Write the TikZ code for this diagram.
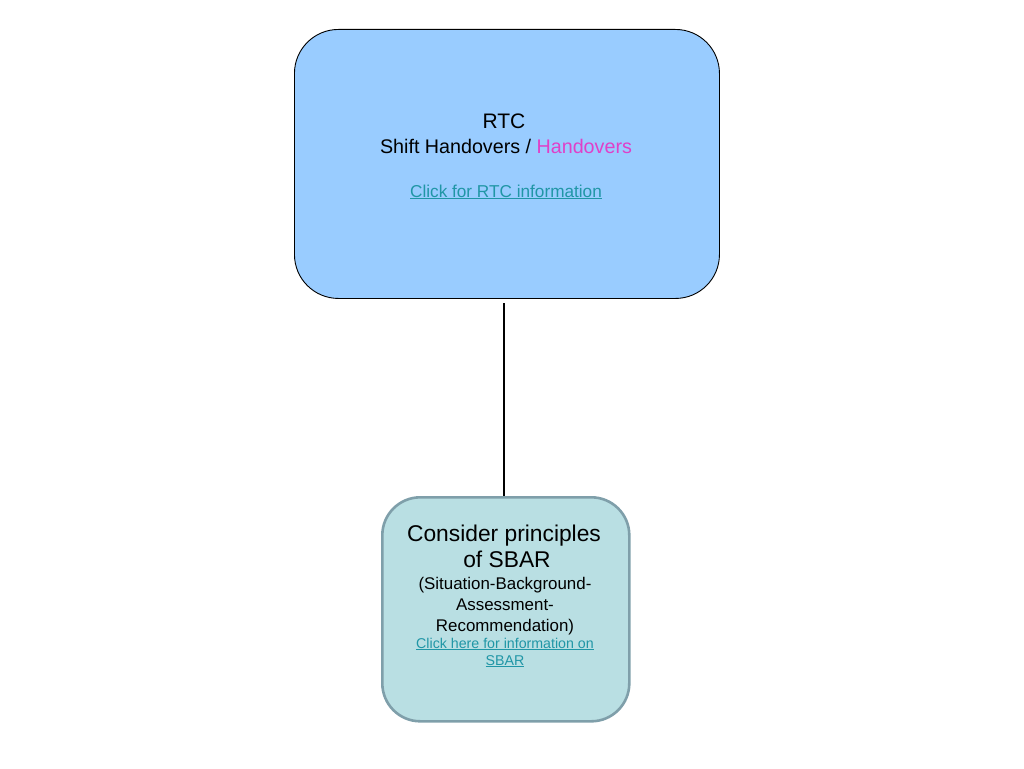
\documentclass[tikz,border=0pt]{standalone}
\usepackage{fontspec}
\setmainfont{Liberation Sans}
\definecolor{topfill}{HTML}{99CCFF}
\definecolor{botfill}{HTML}{B9DFE3}
\definecolor{botdraw}{HTML}{7F9FAA}
\definecolor{linkc}{HTML}{2096A6}
\definecolor{pinkc}{HTML}{E040C8}
\begin{document}
\begin{tikzpicture}[x=1pt,y=-1pt,
  box/.style={draw,rounded corners=44pt,inner sep=0pt,anchor=north west},
  txt/.style={inner sep=0pt,anchor=base},
  lnk/.style={txt,text=linkc}]
\useasboundingbox (0,0) rectangle (1024,768);
\node[box,fill=topfill,draw=black,line width=0.9pt,minimum width=425pt,minimum height=269pt] (top) at (294,29) {};
\node[box,fill=botfill,draw=botdraw,line width=2.6pt,rounded corners=38pt,minimum width=247pt,minimum height=224pt] (bot) at (381,496) {};
\coordinate (lt) at (504,303);
\coordinate (lb) at (504,496);
\draw[line width=2.6pt] (lt) -- (lb);
\node[txt,font=\fontsize{21}{24}\selectfont] (t1) at (504,128) {RTC};
\node[txt,font=\fontsize{19.7}{24}\selectfont] (t2) at (506,153) {Shift Handovers / \textcolor{pinkc}{Handovers}};
\node[lnk,font=\fontsize{17.2}{20}\selectfont] (t3) at (506,197) {\underline{Click for RTC information}};
\node[txt,font=\fontsize{22.8}{26}\selectfont] (b1) at (504,541) {Consider principles};
\node[txt,font=\fontsize{22.8}{26}\selectfont] (b2) at (507,567) {of SBAR};
\node[txt,font=\fontsize{16.9}{20}\selectfont] (b3) at (505,589) {(Situation-Background-};
\node[txt,font=\fontsize{16.9}{20}\selectfont] (b4) at (505,610) {Assessment-};
\node[txt,font=\fontsize{16.9}{20}\selectfont] (b5) at (505,631) {Recommendation)};
\node[lnk,font=\fontsize{14.2}{16}\selectfont] (b6) at (505,648) {\underline{Click here for information on}};
\node[lnk,font=\fontsize{14.2}{16}\selectfont] (b7) at (505,665) {\underline{SBAR}};
\end{tikzpicture}
\end{document}
